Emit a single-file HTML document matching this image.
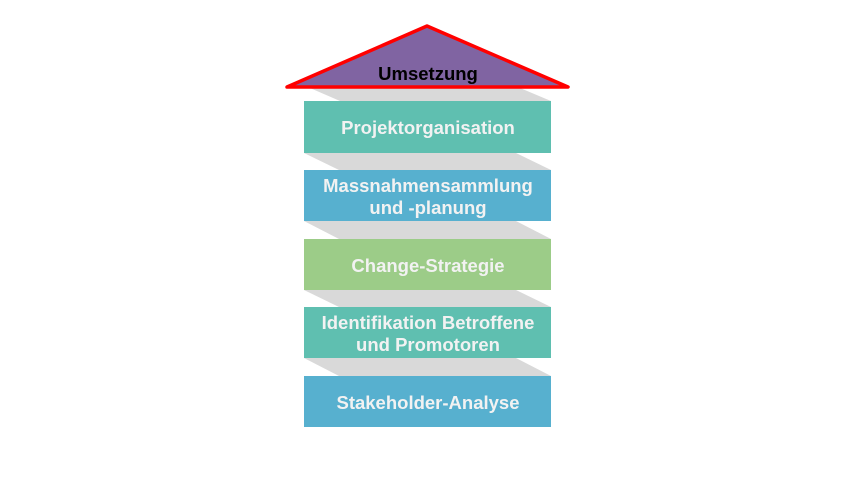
<!DOCTYPE html>
<html><head><meta charset="utf-8"><style>
body{margin:0;background:#fff;width:860px;height:476px;overflow:hidden}
svg text{font-family:"Liberation Sans",sans-serif;font-weight:bold;text-anchor:middle}
</style></head><body>
<svg width="860" height="476" xmlns="http://www.w3.org/2000/svg">
<g fill="#d9d9d9">
<polygon points="310,88 520,88 551,101 340,101"/>
<polygon points="304,153 516,153 551,170 339,170"/>
<polygon points="304,221 516,221 551,239 339,239"/>
<polygon points="304,290 516,290 551,307 339,307"/>
<polygon points="304,358 516,358 551,376 339,376"/>
</g>
<polygon points="427,26 568,87 287,87" fill="#8064a2" stroke="#ff0000" stroke-width="3.5" stroke-linejoin="round"/>
<text x="428" y="80" font-size="18.5" fill="#000">Umsetzung</text>
<rect x="304" y="101" width="247" height="52" fill="#5fbfb0"/>
<rect x="304" y="170" width="247" height="51" fill="#57b0cf"/>
<rect x="304" y="239" width="247" height="51" fill="#9ccc88"/>
<rect x="304" y="307" width="247" height="51" fill="#5fbfb0"/>
<rect x="304" y="376" width="247" height="51" fill="#57b0cf"/>
<g fill="#f2f2f2" font-size="18.5">
<text x="428" y="134">Projektorganisation</text>
<text x="428" y="192">Massnahmensammlung</text>
<text x="428" y="214">und -planung</text>
<text x="428" y="272">Change-Strategie</text>
<text x="428" y="329">Identifikation Betroffene</text>
<text x="428" y="351">und Promotoren</text>
<text x="428" y="409">Stakeholder-Analyse</text>
</g>
</svg>
</body></html>
